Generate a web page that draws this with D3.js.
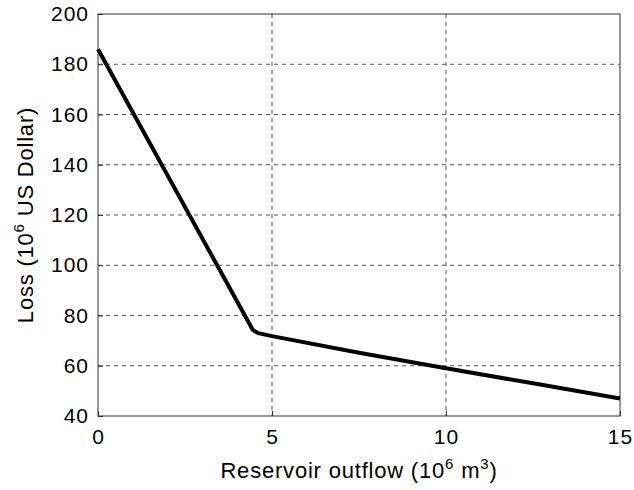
<!DOCTYPE html>
<html><head><meta charset="utf-8">
<script src="https://cdn.jsdelivr.net/npm/d3@7"></script>
<style>body{margin:0;background:#fff}svg{display:block}text{font-family:"Liberation Sans",Arial,sans-serif;fill:#000}</style>
</head><body><svg id="c" width="634" height="490"></svg>
<script>
const outflow = [0, 4.45, 4.6, 4.8, 5, 7.5, 10, 12.5, 15];
const loss = [186, 74.2, 73.0, 72.4, 71.8, 65.2, 59, 53, 47];
const xTicks = [0, 5, 10, 15];
const yTicks = [40, 60, 80, 100, 120, 140, 160, 180, 200];

const svg = d3.select("#c");
const L = 98, R = 620, T = 14, B = 416;
const x = d3.scaleLinear().domain([0, 15]).range([L, R]);
const y = d3.scaleLinear().domain([40, 200]).range([B, T]);

const g = svg.append("g");
g.selectAll(".gx").data(xTicks.slice(1, -1)).enter().append("line")
  .attr("x1", d => x(d)).attr("x2", d => x(d)).attr("y1", T).attr("y2", B)
  .attr("stroke", "#555").attr("stroke-width", 1).attr("stroke-dasharray", "4,4");
g.selectAll(".gy").data(yTicks.slice(1, -1)).enter().append("line")
  .attr("y1", d => y(d)).attr("y2", d => y(d)).attr("x1", L).attr("x2", R)
  .attr("stroke", "#555").attr("stroke-width", 1).attr("stroke-dasharray", "4,4");

const xa = svg.append("g").attr("transform", `translate(0,${B})`)
  .call(d3.axisBottom(x).tickValues(xTicks).tickSize(-5).tickPadding(13).tickFormat(d3.format("d")));
const ya = svg.append("g").attr("transform", `translate(${L},0)`)
  .call(d3.axisLeft(y).tickValues(yTicks).tickSize(-5).tickPadding(9).tickFormat(d3.format("d")));
[xa, ya].forEach(a => {
  a.select(".domain").remove();
  a.selectAll("line").attr("stroke", "#333");
  a.selectAll("text").style("font-size", "21px").style("letter-spacing", "1px").attr("fill", "#000");
});
svg.append("rect").attr("x", L).attr("y", T).attr("width", R - L).attr("height", B - T)
  .attr("fill", "none").attr("stroke", "#333").attr("stroke-width", 1);

svg.append("path").datum(outflow.map((d, i) => [d, loss[i]]))
  .attr("d", d3.line().x(d => x(d[0])).y(d => y(d[1])))
  .attr("fill", "none").attr("stroke", "#000").attr("stroke-width", 4).attr("stroke-linejoin", "round");

const xl = svg.append("text").attr("x", (L + R) / 2).attr("y", 478).attr("text-anchor", "middle")
  .style("font-size", "22px").style("letter-spacing", "0.8px");
xl.append("tspan").text("Reservoir outflow (10");
xl.append("tspan").attr("dy", -9).style("font-size", "15px").text("6");
xl.append("tspan").attr("dy", 9).text(" m");
xl.append("tspan").attr("dy", -9).style("font-size", "15px").text("3");
xl.append("tspan").attr("dy", 9).text(")");

const yl = svg.append("text").attr("transform", `translate(33,${(T + B) / 2}) rotate(-90)`).attr("text-anchor", "middle")
  .style("font-size", "22px").style("letter-spacing", "0.8px");
yl.append("tspan").text("Loss (10");
yl.append("tspan").attr("dy", -9).style("font-size", "15px").text("6");
yl.append("tspan").attr("dy", 9).text(" US Dollar)");
</script></body></html>
